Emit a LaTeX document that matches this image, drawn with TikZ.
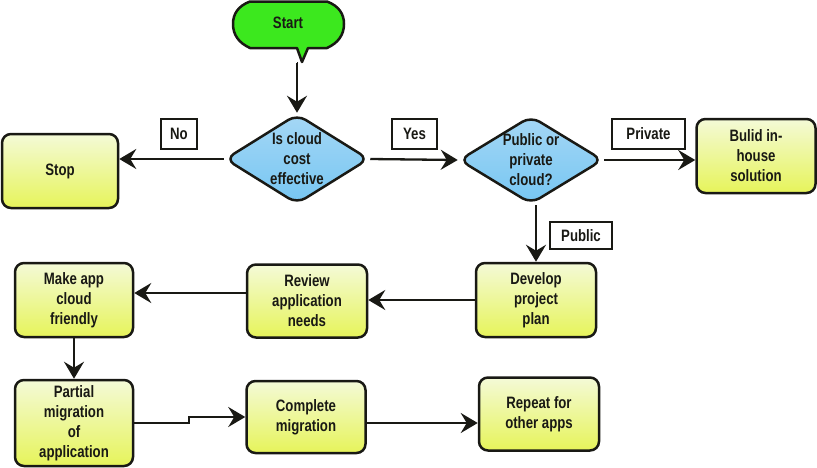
\documentclass[tikz,border=0pt]{standalone}
\usepackage{fontspec}
\setmainfont{Liberation Sans}[FakeStretch=0.8]
\usetikzlibrary{shapes.geometric,arrows.meta}
\definecolor{boxtop}{RGB}{244,250,215}
\definecolor{boxbot}{RGB}{230,244,90}
\definecolor{dtop}{RGB}{165,215,245}
\definecolor{dbot}{RGB}{118,198,242}
\definecolor{startgreen}{RGB}{60,232,30}
\definecolor{ink}{RGB}{25,25,20}
\tikzset{
  every node/.style={font=\fontsize{16.5}{20}\selectfont\bfseries, text=ink, align=center},
  procbox/.style={draw=ink, line width=2.5pt, rounded corners=9pt, top color=boxtop, bottom color=boxbot, inner sep=0pt},
  decision/.style={diamond, draw=ink, line width=2.5pt, rounded corners=10pt, top color=dtop, bottom color=dbot, inner sep=0pt, aspect=1.67},
  lbl/.style={draw=ink, line width=1.8pt, fill=white, inner sep=0pt},
  conn/.style={draw=ink, line width=2.3pt, -{Stealth[length=17pt,width=20pt,inset=6pt]}},
}
\begin{document}
\begin{tikzpicture}[x=1pt,y=-1pt]
\useasboundingbox (0,0) rectangle (817,467);
% Start shape
\path[fill=startgreen, draw=ink, line width=2.5pt, line join=round]
  (250,1.5) -- (327,1.5) .. controls (339,6) and (344,14) .. (344,24)
  .. controls (344,35) and (338,43) .. (327,48) -- (308,48) -- (302,62) -- (297,48) -- (250,48)
  .. controls (239,43) and (233,35) .. (233,24) .. controls (233,14) and (238,6) .. (250,1.5) -- cycle;
\node (start) at (288,23) {Start};
\coordinate (starttip) at (298,63);
% decisions
\node[decision, minimum width=144pt, minimum height=90pt] (d1) at (297,159) {Is cloud\\cost\\effective};
\node[decision, minimum width=144pt, minimum height=88pt] (d2) at (531,160) {Public or\\private\\cloud?};
% boxes
\node[procbox, minimum width=116pt, minimum height=74pt] (stop) at (60,171) {Stop};
\node[procbox, minimum width=119pt, minimum height=74pt] (build) at (756,156) {Bulid in-\\house\\solution};
\node[procbox, minimum width=120pt, minimum height=74pt] (develop) at (536,300) {Develop\\project\\plan};
\node[procbox, minimum width=120pt, minimum height=73pt] (review) at (307,301) {Review\\application\\needs};
\node[procbox, minimum width=118pt, minimum height=74pt] (make) at (74,300) {Make app\\cloud\\friendly};
\node[procbox, minimum width=118pt, minimum height=86pt] (partial) at (74,423) {Partial\\migration\\of\\application};
\node[procbox, minimum width=119pt, minimum height=72pt] (complete) at (306,417) {Complete\\migration};
\node[procbox, minimum width=120pt, minimum height=73pt] (repeat) at (539,414) {Repeat for\\other apps};
% labels
\node[lbl, minimum width=36pt, minimum height=30pt] (no) at (179,134) {No};
\node[lbl, minimum width=45pt, minimum height=30pt] (yes) at (414.5,134) {Yes};
\node[lbl, minimum width=73pt, minimum height=30pt] (private) at (648.5,134) {Private};
\node[lbl, minimum width=62pt, minimum height=27pt] (public) at (581,235.5) {Public};
% connectors
\draw[draw=ink, line width=2.3pt] (starttip) -- (starttip -| d1.north) coordinate (sd);
\draw[conn] (sd) -- (d1.north);
\draw[conn] (d1.west) -- (stop.east |- d1.west);
\draw[conn] (d1.east) -- (d2.west);
\draw[conn] (d2.east) -- (build.west |- d2.east);
\draw[conn] (develop.north |- d2.south) -- (develop.north);
\draw[conn] (develop.west) -- (review.east |- develop.west);
\coordinate (rm) at (0,293);
\draw[conn] (review.west |- rm) -- (make.east |- rm);
\draw[conn] (make.south) -- (partial.north);
\draw[conn] (partial.east) -- ++(55,0) |- (complete.west);
\coordinate (cr) at (0,423);
\draw[conn] (complete.east |- cr) -- (repeat.west |- cr);
\end{tikzpicture}
\end{document}
